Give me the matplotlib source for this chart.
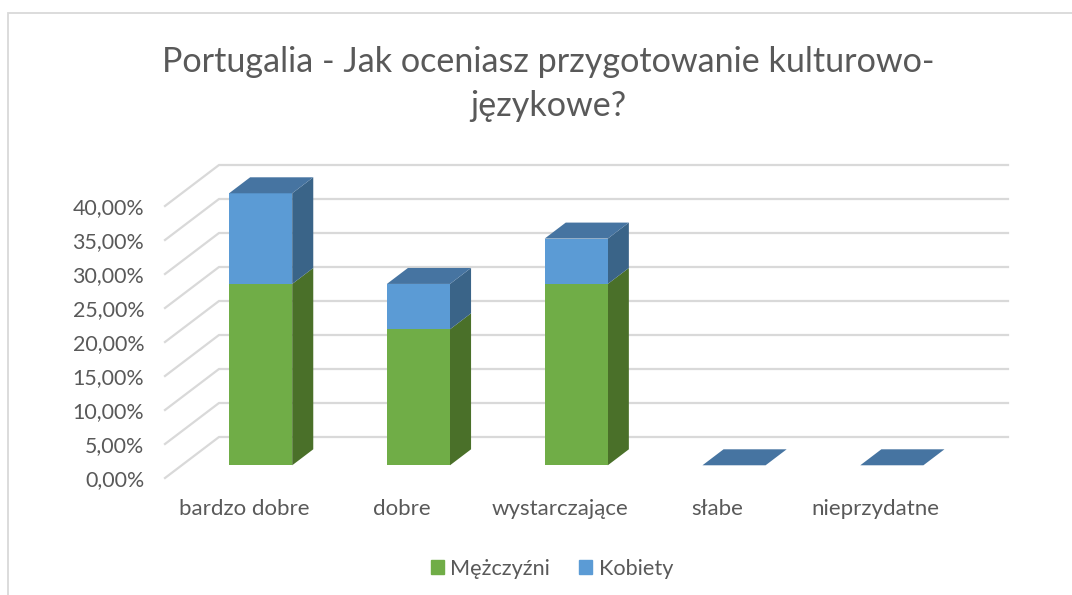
import matplotlib
matplotlib.use('Agg')
import numpy as np
import matplotlib.pyplot as plt
from matplotlib.lines import Line2D
from matplotlib.patches import Patch

categories = ['bardzo dobre', 'dobre', 'wystarczające', 'słabe', 'nieprzydatne']
men = [26.67, 20.0, 26.67, 0.0, 0.0]
women = [13.33, 6.67, 6.67, 0.0, 0.0]
y_ticks = [0, 5, 10, 15, 20, 25, 30, 35, 40]
series_names = ['Mężczyźni', 'Kobiety']
title = 'Portugalia - Jak oceniasz przygotowanie kulturowo-\njęzykowe?'

W, H = 1072, 595
TEXT = '#595959'
GRID = '#D9D9D9'
BLUE, BLUE_SIDE, BLUE_TOP = '#5B9BD5', '#3A6488', '#4674A1'
GREEN, GREEN_SIDE = '#70AD47', '#4A7029'

# fake 3d: depth 0 is the front plane of the axes, depth 1 the back wall
DX = 54 / 157.8
DY = 41 / 6.8
BAR_FRONT = 0.31
BAR_BACK = 0.70
BAR_W = 0.4

plt.rcParams['font.family'] = ['Lato', 'DejaVu Sans']

fig = plt.figure(figsize=(W / 100, H / 100), dpi=100)
ax = fig.add_axes([165 / W, 1 - 478 / H, 789 / W, 272 / H])
ax.set_xlim(-0.5, 4.5)
ax.set_ylim(0, 40)
for s in ax.spines.values():
    s.set_visible(False)


def project(x, y, depth):
    return x + depth * DX, y + depth * DY


# gridlines, slanted part and back wall part
for t in y_ticks:
    x0, y0 = project(-0.5, t, 0)
    x1, y1 = project(-0.5, t, 1)
    x2, y2 = project(4.5, t, 1)
    ax.plot([x0, x1, x2], [y0, y1, y2], color=GRID, lw=1.6, clip_on=False,
            solid_joinstyle='miter', zorder=1)

# bars
xs = np.arange(len(categories))
men = np.array(men)
women = np.array(women)
total = men + women
left = xs - BAR_W / 2


def side(i, lo, hi, color):
    x = left[i] + BAR_W
    pts = [project(x, lo, BAR_FRONT), project(x, lo, BAR_BACK),
           project(x, hi, BAR_BACK), project(x, hi, BAR_FRONT)]
    ax.fill(*zip(*pts), color=color, lw=0, clip_on=False, zorder=2)


for i in xs:
    if total[i] == 0:
        continue
    side(i, 0, men[i], GREEN_SIDE)
    side(i, men[i], total[i], BLUE_SIDE)

x_front, _ = project(xs, 0, BAR_FRONT)
_, base = project(0, 0, BAR_FRONT)
ax.bar(x_front, men, BAR_W, bottom=base, color=GREEN, lw=0, clip_on=False, zorder=3)
ax.bar(x_front, women, BAR_W, bottom=base + men, color=BLUE, lw=0, clip_on=False, zorder=3)

for i in xs:
    a = project(left[i], total[i], BAR_FRONT)
    b = project(left[i] + BAR_W, total[i], BAR_FRONT)
    c = project(left[i] + BAR_W, total[i], BAR_BACK)
    d = project(left[i], total[i], BAR_BACK)
    ax.fill(*zip(a, b, c, d), color=BLUE_TOP, lw=0, clip_on=False, zorder=4)

ax.set_xticks(xs)
ax.set_xticklabels(categories)
ax.set_yticks(y_ticks)
ax.set_yticklabels([('%.2f%%' % t).replace('.', ',') for t in y_ticks], va='center_baseline')
ax.tick_params(axis='x', length=0, labelsize=16, labelcolor=TEXT, pad=15)
ax.tick_params(axis='y', length=0, labelsize=15.4, labelcolor=TEXT, pad=15)

fig.text(548 / W, 1 - 84 / H, title, ha='center', va='center', fontsize=24.6,
         color=TEXT, linespacing=1.44)

handles = [Patch(color=GREEN), Patch(color=BLUE)]
fig.legend(handles, series_names, loc='center', bbox_to_anchor=(552 / W, 1 - 569 / H),
           ncol=2, frameon=False, fontsize=15.6, labelcolor=TEXT, handlelength=0.6,
           handleheight=0.6, handletextpad=0.3, columnspacing=1.35)

# chart frame, cropped at right and bottom
fig.add_artist(Line2D([8 / W, 8 / W, 1], [0, 1 - 13 / H, 1 - 13 / H], color=GRID, lw=1.3,
                      transform=fig.transFigure, solid_joinstyle='miter'))

fig.savefig('out.png', dpi=100)
